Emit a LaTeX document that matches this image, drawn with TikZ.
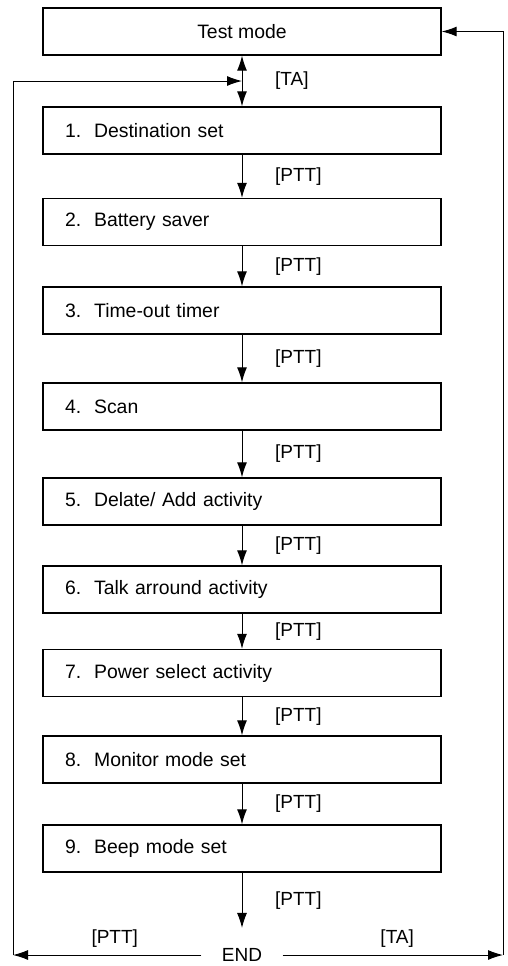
\documentclass[tikz,border=0pt]{standalone}
\usepackage{fontspec}
\setmainfont{Liberation Sans}
\usetikzlibrary{positioning,arrows.meta}

\tikzset{
  basic/.style = {draw, rectangle, line width=0.7pt, minimum width=199pt,
                  minimum height=23.5pt, font=\fontsize{9.7}{11}\selectfont},
  mode/.style  = {basic, align=center},
  stage/.style = {basic, text width=177pt, inner xsep=11pt, align=left},
  key/.style   = {right, xshift=13pt, font=\fontsize{9.5}{11}\selectfont},
  endkey/.style = {above, font=\fontsize{9.5}{11}\selectfont}
}

\begin{document}
\begin{tikzpicture}[>={Latex[length=7.5pt,width=5pt]}, line width=0.5pt]

\useasboundingbox (0,0) rectangle (254pt,-483pt);

\node[mode] (test) at (121pt,-15.75pt) {Test mode};

% the nine test steps, one below the other
\node[stage, below of = test, node distance=49.5pt]  (b1) {1.~~Destination set};
\node[stage, below of = b1, node distance=45.75pt]   (b2) {2.~~Battery saver};
\node[stage, below of = b2, node distance=44.25pt]   (b3) {3.~~Time-out timer};
\node[stage, below of = b3, node distance=48pt]      (b4) {4.~~Scan};
\node[stage, below of = b4, node distance=47.5pt]    (b5) {5.~~Delate/ Add activity};
\node[stage, below of = b5, node distance=44pt]      (b6) {6.~~Talk arround activity};
\node[stage, below of = b6, node distance=41.75pt]   (b7) {7.~~Power select activity};
\node[stage, below of = b7, node distance=43.25pt]   (b8) {8.~~Monitor mode set};
\node[stage, below of = b8, node distance=44.5pt]    (b9) {9.~~Beep mode set};

\node[below of = b9, node distance=53.25pt, inner sep=10pt,
      font=\fontsize{9.5}{11}\selectfont] (end) {END};

\coordinate (cl) at ([xshift=-114.5pt]end.center);
\coordinate (cr) at ([xshift=130.5pt]end.center);

\draw[<->] (test) -- coordinate (tap) node[key] {[TA]} (b1);

\foreach \a/\b in {1/2,2/3,3/4,4/5,5/6,6/7,7/8,8/9}
  \draw[->] (b\a) -- node[key] {[PTT]} (b\b);

\draw[->] (b9) -- node[key] {[PTT]} (end);

\draw[->] (end.west) -- node[endkey, pos=0.46] {[PTT]} (cl);
\draw[->] (end.east) -- node[endkey, pos=0.52] {[TA]} (cr);

\draw[->] (cl) |- (tap);
\draw[->] (cr) |- (test.east);

\end{tikzpicture}
\end{document}
